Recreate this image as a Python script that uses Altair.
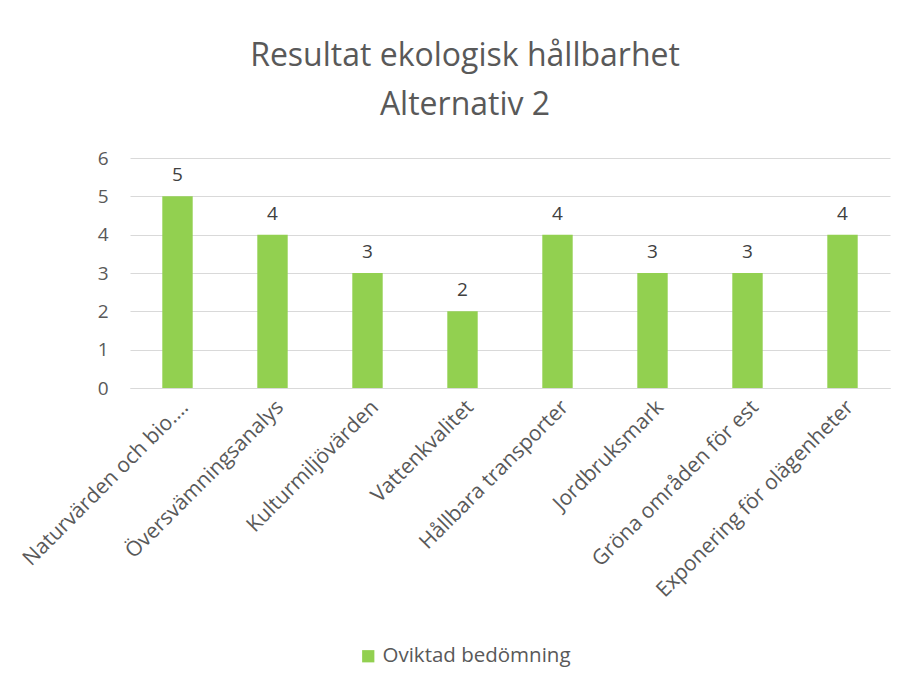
import altair as alt
import pandas as pd

categories = [
    "Naturvärden och bio….",
    "Översvämningsanalys",
    "Kulturmiljövärden",
    "Vattenkvalitet",
    "Hållbara transporter",
    "Jordbruksmark",
    "Gröna områden för est",
    "Exponering för olägenheter",
]
values = [5, 4, 3, 2, 4, 3, 3, 4]
series_name = "Oviktad bedömning"

df = pd.DataFrame({"kategori": categories, "värde": values, "serie": series_name})

FONT = "Open Sans"
GREY = "#595959"

base = alt.Chart(df).encode(
    x=alt.X(
        "kategori:N",
        sort=categories,
        title=None,
        scale=alt.Scale(paddingInner=0.68, paddingOuter=0.34),
        axis=alt.Axis(labelAngle=-45),
    ),
    y=alt.Y(
        "värde:Q",
        title=None,
        scale=alt.Scale(domain=[0, 6]),
        axis=alt.Axis(values=[0, 1, 2, 3, 4, 5, 6]),
    ),
)

bars = base.mark_bar(color="#92D050").encode(
    color=alt.Color(
        "serie:N",
        scale=alt.Scale(range=["#92D050"]),
        legend=alt.Legend(
            title=None,
            orient="none",
            legendX=228,
            legendY=488,
            symbolType="square",
            symbolSize=150,
            labelFontSize=20.5,
            labelColor=GREY,
            labelFont=FONT,
            labelLimit=400,
            symbolStrokeWidth=0,
        ),
    )
)

labels = base.mark_text(
    baseline="bottom", dy=-11, fontSize=19, color="#404040", font=FONT
).encode(text="värde:Q")

chart = (
    alt.layer(bars, labels)
    .properties(
        width=760,
        height=230,
        autosize=alt.AutoSizeParams(type="none"),
        padding={"left": 122, "top": 150, "right": 12, "bottom": 280},
        background="white",
        title=alt.TitleParams(
            text=["Resultat ekologisk hållbarhet", "Alternativ 2"],
            fontSize=32,
            font=FONT,
            fontWeight="normal",
            color=GREY,
            anchor="middle",
            dx=-45,
            offset=27,
            lineHeight=49,
        ),
    )
    .configure_view(stroke=None)
    .configure_axisX(
        labelFontSize=21,
        labelColor=GREY,
        labelFont=FONT,
        ticks=False,
        domainColor="#d9d9d9",
        labelPadding=8,
        labelLimit=400,
        grid=False,
    )
    .configure_axisY(
        labelFontSize=19,
        labelColor=GREY,
        labelFont=FONT,
        ticks=False,
        domain=False,
        gridColor="#d9d9d9",
        labelPadding=22,
    )
)

chart.save("out.html", embed_options={"renderer": "svg", "actions": False})
